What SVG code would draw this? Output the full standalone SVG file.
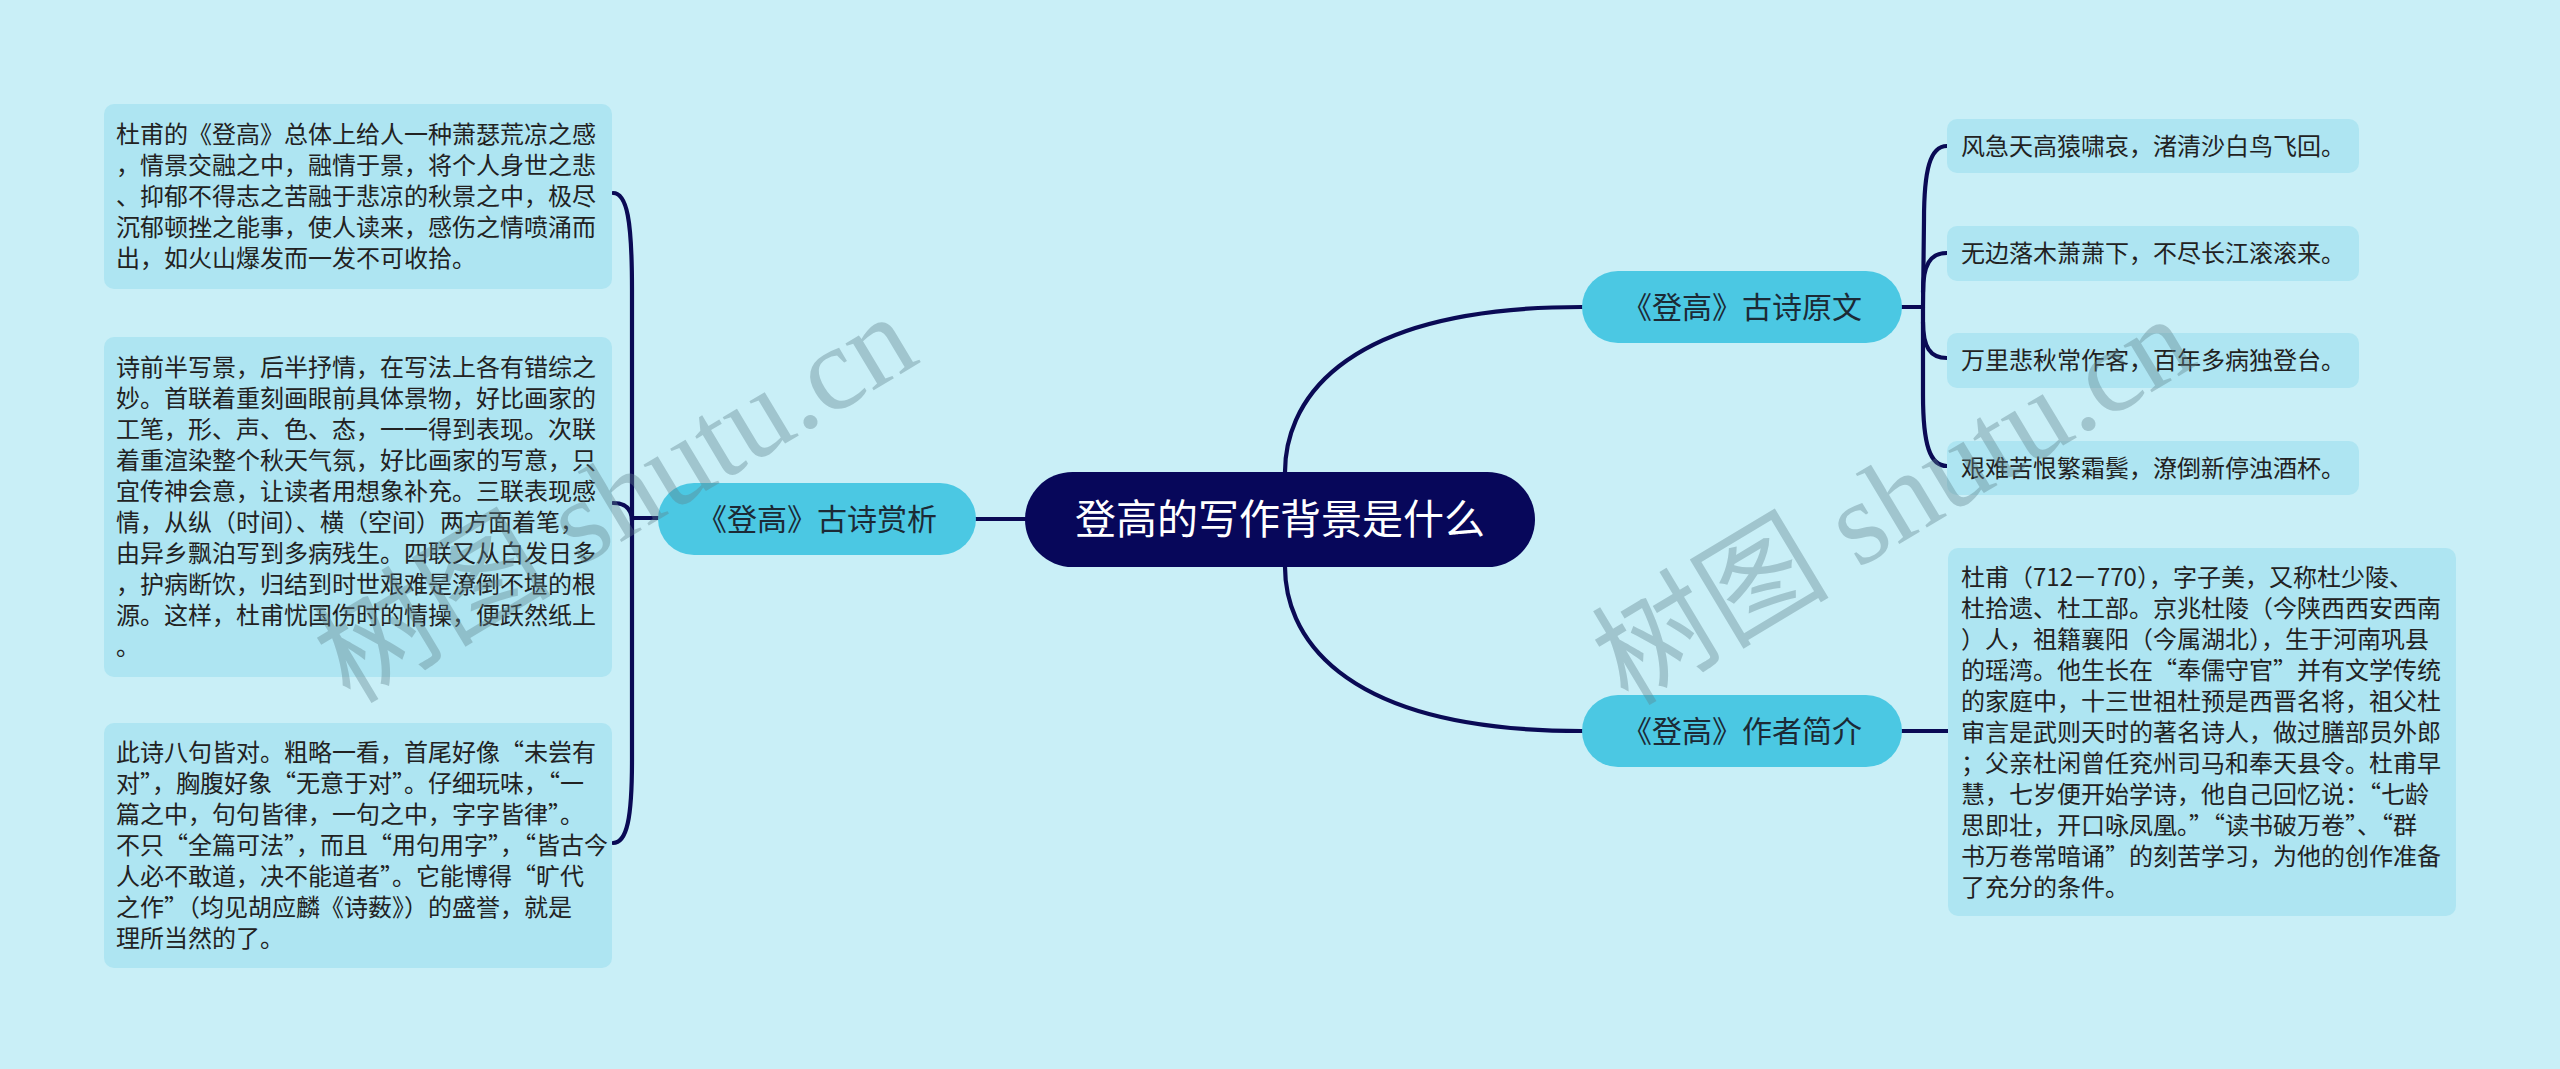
<svg xmlns="http://www.w3.org/2000/svg" width="2560" height="1069" viewBox="0 0 2560 1069">
<style>
.bg{fill:#c9eff7}
.leaf{fill:#aee5f2}
.main{fill:#4bc8e3}
.root{fill:#07075a}
.lt{font-family:"Noto Sans CJK SC","Noto Sans",sans-serif;font-size:24px;fill:#222222}
.mt{font-family:"Noto Sans CJK SC","Noto Sans",sans-serif;font-size:30px;fill:#1c2a36;text-anchor:middle}
.rt{font-family:"Noto Sans CJK SC","Noto Sans",sans-serif;font-size:41px;fill:#ffffff;text-anchor:middle}
.ln{fill:none;stroke:#0a0a55;stroke-width:4.2;stroke-linecap:round}
.wm{font-family:"Liberation Serif","Noto Sans CJK SC",serif;font-size:119px;fill:#5f828c;opacity:0.38}
</style>
<rect class="bg" x="0" y="0" width="2560" height="1069"/>

<g id="connectors">
<path class="ln" d="M1025,519 L976,519"/>
<path class="ln" d="M1285,472 C1285,410 1330,307 1582,307"/>
<path class="ln" d="M1285,567 C1285,628 1330,731 1582,731"/>
<path class="ln" d="M658,518 L632,518"/>
<path class="ln" d="M613,193 C627,193 632,220 632,290 L632,518"/>
<path class="ln" d="M613,503 Q632,503 632,521"/>
<path class="ln" d="M632,518 L632,760 C632,818 627,843 613,843"/>
<path class="ln" d="M1902,307 L1923,307"/>
<path class="ln" d="M1947,146 C1930,146 1924,170 1924,220 L1923,307"/>
<path class="ln" d="M1947,253 C1930,253 1923,265 1923,292"/>
<path class="ln" d="M1923,322 C1923,347 1930,358 1947,358"/>
<path class="ln" d="M1923,307 L1923,395 C1923,445 1930,466 1947,466"/>
<path class="ln" d="M1902,731 L1948,731"/>
</g>

<g id="root">
<rect class="root" x="1025" y="472" width="510" height="95" rx="47.5"/>
<text class="rt" x="1280" y="534">登高的写作背景是什么</text>
</g>

<g id="node-shangxi">
<rect class="main" x="658" y="483" width="318" height="72" rx="36"/>
<text class="mt" x="817" y="530">《登高》古诗赏析</text>
</g>

<g id="node-yuanwen">
<rect class="main" x="1582" y="271" width="320" height="72" rx="36"/>
<text class="mt" x="1742" y="318">《登高》古诗原文</text>
</g>

<g id="node-zuozhe">
<rect class="main" x="1582" y="695" width="320" height="72" rx="36"/>
<text class="mt" x="1742" y="742">《登高》作者简介</text>
</g>

<g id="leaf-l1">
<rect class="leaf" x="104" y="104" width="508" height="185" rx="10"/>
<text class="lt">
<tspan x="116" y="143">杜甫的《登高》总体上给人一种萧瑟荒凉之感</tspan>
<tspan x="116" y="174">，情景交融之中，融情于景，将个人身世之悲</tspan>
<tspan x="116" y="205">、抑郁不得志之苦融于悲凉的秋景之中，极尽</tspan>
<tspan x="116" y="236">沉郁顿挫之能事，使人读来，感伤之情喷涌而</tspan>
<tspan x="116" y="267">出，如火山爆发而一发不可收拾。</tspan>
</text>
</g>

<g id="leaf-l2">
<rect class="leaf" x="104" y="337" width="508" height="340" rx="10"/>
<text class="lt">
<tspan x="116" y="376">诗前半写景，后半抒情，在写法上各有错综之</tspan>
<tspan x="116" y="407">妙。首联着重刻画眼前具体景物，好比画家的</tspan>
<tspan x="116" y="438">工笔，形、声、色、态，一一得到表现。次联</tspan>
<tspan x="116" y="469">着重渲染整个秋天气氛，好比画家的写意，只</tspan>
<tspan x="116" y="500">宜传神会意，让读者用想象补充。三联表现感</tspan>
<tspan x="116" y="531">情，从纵（时间）、横（空间）两方面着笔，</tspan>
<tspan x="116" y="562">由异乡飘泊写到多病残生。四联又从白发日多</tspan>
<tspan x="116" y="593">，护病断饮，归结到时世艰难是潦倒不堪的根</tspan>
<tspan x="116" y="624">源。这样，杜甫忧国伤时的情操，便跃然纸上</tspan>
<tspan x="116" y="655">。</tspan>
</text>
</g>

<g id="leaf-l3">
<rect class="leaf" x="104" y="723" width="508" height="245" rx="10"/>
<text class="lt">
<tspan x="116" y="761">此诗八句皆对。粗略一看，首尾好像“未尝有</tspan>
<tspan x="116" y="792">对”，胸腹好象“无意于对”。仔细玩味，“一</tspan>
<tspan x="116" y="823">篇之中，句句皆律，一句之中，字字皆律”。</tspan>
<tspan x="116" y="854">不只“全篇可法”，而且“用句用字”，“皆古今</tspan>
<tspan x="116" y="885">人必不敢道，决不能道者”。它能博得“旷代</tspan>
<tspan x="116" y="916">之作”（均见胡应麟《诗薮》）的盛誉，就是</tspan>
<tspan x="116" y="947">理所当然的了。</tspan>
</text>
</g>

<g id="leaf-r1">
<rect class="leaf" x="1947" y="119" width="412" height="54" rx="10"/>
<text class="lt" x="1961" y="154.5">风急天高猿啸哀，渚清沙白鸟飞回。</text>
</g>
<g id="leaf-r2">
<rect class="leaf" x="1947" y="226" width="412" height="55" rx="10"/>
<text class="lt" x="1961" y="262">无边落木萧萧下，不尽长江滚滚来。</text>
</g>
<g id="leaf-r3">
<rect class="leaf" x="1947" y="333" width="412" height="55" rx="10"/>
<text class="lt" x="1961" y="369">万里悲秋常作客，百年多病独登台。</text>
</g>
<g id="leaf-r4">
<rect class="leaf" x="1947" y="441" width="412" height="54" rx="10"/>
<text class="lt" x="1961" y="476.5">艰难苦恨繁霜鬓，潦倒新停浊酒杯。</text>
</g>

<g id="leaf-r5">
<rect class="leaf" x="1948" y="548" width="508" height="368" rx="10"/>
<text class="lt">
<tspan x="1961" y="585.5">杜甫（712－770），字子美，又称杜少陵、</tspan>
<tspan x="1961" y="616.5">杜拾遗、杜工部。京兆杜陵（今陕西西安西南</tspan>
<tspan x="1961" y="647.5">）人，祖籍襄阳（今属湖北），生于河南巩县</tspan>
<tspan x="1961" y="678.5">的瑶湾。他生长在“奉儒守官”并有文学传统</tspan>
<tspan x="1961" y="709.5">的家庭中，十三世祖杜预是西晋名将，祖父杜</tspan>
<tspan x="1961" y="740.5">审言是武则天时的著名诗人，做过膳部员外郎</tspan>
<tspan x="1961" y="771.5">；父亲杜闲曾任兖州司马和奉天县令。杜甫早</tspan>
<tspan x="1961" y="802.5">慧，七岁便开始学诗，他自己回忆说：“七龄</tspan>
<tspan x="1961" y="833.5">思即壮，开口咏凤凰。”“读书破万卷”、“群</tspan>
<tspan x="1961" y="864.5">书万卷常暗诵”的刻苦学习，为他的创作准备</tspan>
<tspan x="1961" y="895.5">了充分的条件。</tspan>
</text>
</g>

<g id="watermarks">
<text class="wm" transform="translate(350,705) rotate(-31)">树图 shutu.cn</text>
<text class="wm" transform="translate(1628,707) rotate(-31)">树图 shutu.cn</text>
</g>
</svg>
